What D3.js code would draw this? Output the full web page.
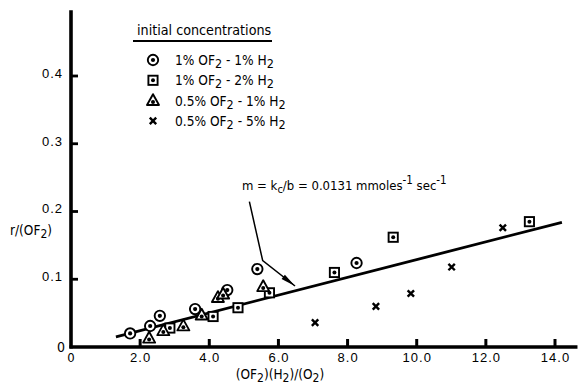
<!DOCTYPE html>
<html>
<head>
<meta charset="utf-8">
<script src="https://cdn.jsdelivr.net/npm/d3@7"></script>
<style>
  html, body { margin: 0; padding: 0; background: #fff; }
  svg { display: block; font-family: "DejaVu Sans Condensed", "DejaVu Sans", sans-serif; font-stretch: condensed; }
</style>
</head>
<body>
<svg id="chart" width="579" height="384"></svg>
<script>
// Rate data: r/(OF2) versus (OF2)(H2)/(O2), four initial-concentration runs
const circleX   = [1.71, 2.29, 2.57, 3.59, 4.52, 5.39, 8.26];
const circleY   = [0.020, 0.031, 0.046, 0.056, 0.084, 0.115, 0.124];
const squareX   = [2.86, 4.11, 4.83, 5.74, 7.62, 9.32, 13.26];
const squareY   = [0.028, 0.045, 0.058, 0.080, 0.110, 0.162, 0.185];
const triangleX = [2.26, 2.67, 3.25, 3.78, 4.25, 4.40, 5.56];
const triangleY = [0.013, 0.024, 0.031, 0.047, 0.073, 0.078, 0.089];
const crossX    = [7.06, 8.82, 9.83, 11.01, 12.49];
const crossY    = [0.036, 0.060, 0.079, 0.118, 0.176];

// Least-squares line: slope m = kc/b
const fitSlope = 0.0131;
const fitIntercept = -0.002;
const fitRange = [1.3, 14.2];

const xTicks = [2, 4, 6, 8, 10, 12, 14];
const xTickLabels = ["2.0", "4.0", "6.0", "8.0", "10.0", "12.0", "14.0"];
const yTicks = [0.1, 0.2, 0.3, 0.4];
const yTickLabels = ["0.1", "0.2", "0.3", "0.4"];

const legendTitle = "initial concentrations";
const legendKeys = ["circle", "square", "triangle", "cross"];
// [text, subscript, text, subscript]
const legendLabels = [
  ["1% OF", "2", " - 1% H", "2"],
  ["1% OF", "2", " - 2% H", "2"],
  ["0.5% OF", "2", " - 1% H", "2"],
  ["0.5% OF", "2", " - 5% H", "2"]
];

// annotation leader (data units): start, bend, arrow tip
const leaderPts = [[5.16, 0.2145], [5.545, 0.1274], [6.48, 0.090]];

const svg = d3.select("#chart");
const x = d3.scaleLinear().domain([0, 14]).range([71, 555]);
const y = d3.scaleLinear().domain([0, 0.5]).range([347, 8.25]);

const ink = "#000";

// axes
const xAxis = d3.axisBottom(x).tickValues(xTicks).tickSize(0).tickFormat((d, i) => xTickLabels[i]);
const yAxis = d3.axisLeft(y).tickValues(yTicks).tickSize(0).tickFormat((d, i) => yTickLabels[i]);

const gx = svg.append("g").attr("transform", `translate(0,${y(0)})`).call(xAxis);
gx.select(".domain").remove();
gx.selectAll("text").attr("font-size", 13).attr("fill", ink).attr("dy", "0.9em").attr("letter-spacing", 1)
  .attr("font-family", null);

const gy = svg.append("g").attr("transform", `translate(${x(0)},0)`).call(yAxis);
gy.select(".domain").remove();
gy.selectAll("text").attr("font-size", 13).attr("fill", ink).attr("x", -8).attr("dy", "0.1em").attr("letter-spacing", 1)
  .attr("font-family", null);

// axis lines
svg.append("line").attr("x1", x(0) - 1.5).attr("x2", x(14.65)).attr("y1", y(0)).attr("y2", y(0))
  .attr("stroke", ink).attr("stroke-width", 3.4);
svg.append("line").attr("x1", x(0)).attr("x2", x(0)).attr("y1", y(0) + 1.5).attr("y2", y(0.497))
  .attr("stroke", ink).attr("stroke-width", 3.6);

// inward ticks
svg.append("g").selectAll("line").data(xTicks).join("line")
  .attr("x1", d => x(d)).attr("x2", d => x(d)).attr("y1", y(0)).attr("y2", y(0) - 8)
  .attr("stroke", ink).attr("stroke-width", 3);
svg.append("g").selectAll("line").data(yTicks).join("line")
  .attr("x1", x(0)).attr("x2", x(0) + 7).attr("y1", d => y(d)).attr("y2", d => y(d))
  .attr("stroke", ink).attr("stroke-width", 2.8);

// origin labels
svg.append("text").attr("x", x(0) - 6).attr("y", y(0) + 5).attr("text-anchor", "end")
  .attr("font-size", 14).text("0");
svg.append("text").attr("x", x(0)).attr("y", y(0) + 15).attr("text-anchor", "middle")
  .attr("font-size", 13).text("0");

// axis titles
const xt = svg.append("text").attr("x", 280).attr("y", 379).attr("text-anchor", "middle").attr("font-size", 13.5);
xt.append("tspan").text("(OF");
xt.append("tspan").attr("dy", 3).attr("font-size", 12).text("2");
xt.append("tspan").attr("dy", -3).text(")(H");
xt.append("tspan").attr("dy", 3).attr("font-size", 12).text("2");
xt.append("tspan").attr("dy", -3).text(")/(O");
xt.append("tspan").attr("dy", 3).attr("font-size", 12).text("2");
xt.append("tspan").attr("dy", -3).text(")");

const yt = svg.append("text").attr("x", 10).attr("y", 235).attr("font-size", 13.5);
yt.append("tspan").text("r/(OF");
yt.append("tspan").attr("dy", 3).attr("font-size", 12).text("2");
yt.append("tspan").attr("dy", -3).text(")");

// fit line
svg.append("line")
  .attr("x1", x(fitRange[0])).attr("y1", y(fitSlope * fitRange[0] + fitIntercept))
  .attr("x2", x(fitRange[1])).attr("y2", y(fitSlope * fitRange[1] + fitIntercept))
  .attr("stroke", ink).attr("stroke-width", 2.8);

// marker drawing
function drawMarker(g, kind) {
  if (kind === "circle") {
    g.append("circle").attr("r", 5.2).attr("fill", "#fff").attr("stroke", ink).attr("stroke-width", 1.9);
    g.append("circle").attr("r", 2.1).attr("fill", ink);
  } else if (kind === "square") {
    g.append("rect").attr("x", -4.6).attr("y", -4.6).attr("width", 9.2).attr("height", 9.2)
      .attr("fill", "#fff").attr("stroke", ink).attr("stroke-width", 1.9);
    g.append("circle").attr("r", 2).attr("fill", ink);
  } else if (kind === "triangle") {
    g.append("path").attr("d", "M0,-6.4 L6,4.4 L-6,4.4 Z")
      .attr("fill", "#fff").attr("stroke", ink).attr("stroke-width", 1.9).attr("stroke-linejoin", "round");
    g.append("circle").attr("cy", 1.3).attr("r", 2).attr("fill", ink);
  } else {
    g.append("path").attr("d", "M-3.2,-3.2 L3.2,3.2 M-3.2,3.2 L3.2,-3.2")
      .attr("stroke", ink).attr("stroke-width", 2.4);
  }
}

const series = [
  { kind: "circle", xs: circleX, ys: circleY },
  { kind: "square", xs: squareX, ys: squareY },
  { kind: "triangle", xs: triangleX, ys: triangleY },
  { kind: "cross", xs: crossX, ys: crossY }
];

series.forEach(s => {
  s.xs.forEach((xv, i) => {
    const g = svg.append("g").attr("transform", `translate(${x(xv)},${y(s.ys[i])})`);
    drawMarker(g, s.kind);
  });
});

// annotation leader with arrowhead
const lp = leaderPts.map(p => [x(p[0]), y(p[1])]);
svg.append("path").attr("d", d3.line()(lp)).attr("fill", "none").attr("stroke", ink).attr("stroke-width", 1.5);
{
  const [bx, by] = lp[1], [tx, ty] = lp[2];
  const ang = Math.atan2(ty - by, tx - bx);
  const L = 15, W = 2.7;
  const c = Math.cos(ang), s = Math.sin(ang);
  const p1 = [tx - L * c - W * s, ty - L * s + W * c];
  const p2 = [tx - L * c + W * s, ty - L * s - W * c];
  svg.append("path").attr("d", `M${tx},${ty}L${p1[0]},${p1[1]}L${p2[0]},${p2[1]}Z`).attr("fill", ink);
}

const at = svg.append("text").attr("x", 242).attr("y", 190).attr("font-size", 13);
at.append("tspan").text("m = k");
at.append("tspan").attr("dy", 3).attr("font-size", 11).text("c");
at.append("tspan").attr("dy", -3).text("/b = 0.0131 mmoles");
at.append("tspan").attr("dy", -6).attr("font-size", 11.5).text("-1");
at.append("tspan").attr("dy", 6).text(" sec");
at.append("tspan").attr("dy", -6).attr("font-size", 11.5).text("-1");

// legend
svg.append("text").attr("x", 137).attr("y", 35).attr("font-size", 14.2).text(legendTitle);
svg.append("line").attr("x1", 133).attr("x2", 272).attr("y1", 41).attr("y2", 41)
  .attr("stroke", ink).attr("stroke-width", 2);

legendKeys.forEach((k, i) => {
  const cy = 60 + i * 20.3;
  const g = svg.append("g").attr("transform", `translate(153,${cy})`);
  drawMarker(g, k);
  const t = svg.append("text").attr("x", 175).attr("y", cy + 5).attr("font-size", 13.6);
  const parts = legendLabels[i];
  t.append("tspan").text(parts[0]);
  t.append("tspan").attr("dy", 3).attr("font-size", 12.5).text(parts[1]);
  t.append("tspan").attr("dy", -3).text(parts[2]);
  t.append("tspan").attr("dy", 3).attr("font-size", 12.5).text(parts[3]);
});
</script>
</body>
</html>
